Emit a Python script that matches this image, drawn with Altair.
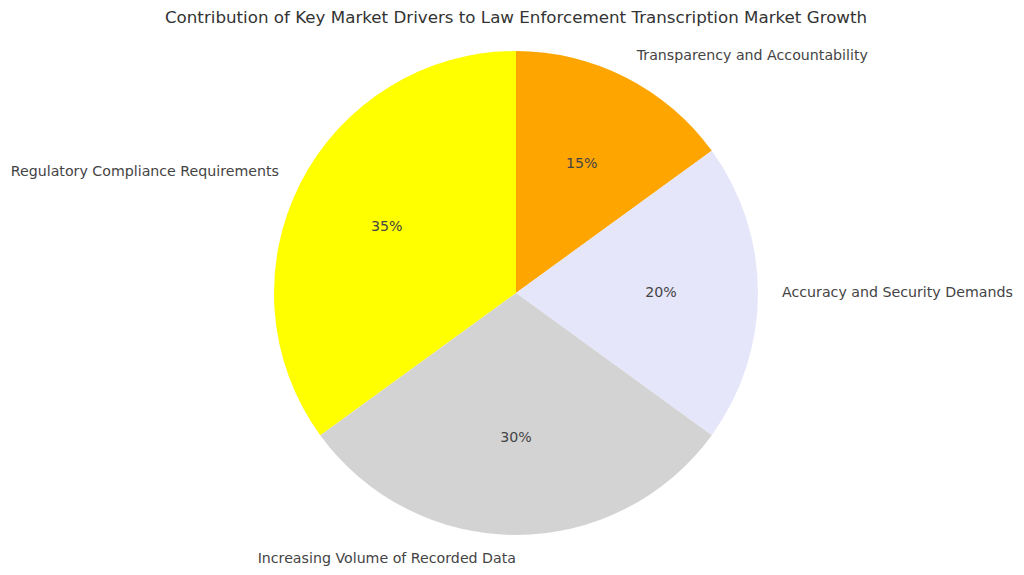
import altair as alt
import pandas as pd

categories = ["Transparency and Accountability", "Accuracy and Security Demands",
              "Increasing Volume of Recorded Data", "Regulatory Compliance Requirements"]
values = [15, 20, 30, 35]
colors = ["#FFA500", "#E6E6FA", "#D3D3D3", "#FFFF00"]

df = pd.DataFrame({"category": categories, "value": values, "idx": list(range(len(values)))})

base = alt.Chart(df).transform_window(
    cum_end="sum(value)", sort=[alt.SortField("idx")], frame=[None, 0]
).transform_calculate(
    cum_start="datum.cum_end - datum.value",
    mid="datum.cum_end - datum.value / 2",
    pct="format(datum.value, '.0f') + '%'",
    side="datum.cum_end - datum.value / 2 < 50 ? 'left' : 'right'",
)

tscale = alt.Scale(domain=[0, 100], range=[0, 6.283185307179586])
FS = 14.2
TXT = "#444444"

arcs = base.mark_arc(radius=242, stroke=None).encode(
    theta=alt.Theta("cum_start:Q", scale=tscale, stack=None),
    theta2="cum_end:Q",
    color=alt.Color("category:N", scale=alt.Scale(domain=categories, range=colors), legend=None),
)

pcts = base.mark_text(radius=145, font="DejaVu Sans", fontSize=FS, color=TXT).encode(
    theta=alt.Theta("mid:Q", scale=tscale, stack=None),
    text="pct:N",
)

left_labels = base.transform_filter("datum.side == 'left'").mark_text(
    radius=266, align="left", font="DejaVu Sans", fontSize=FS, color=TXT
).encode(theta=alt.Theta("mid:Q", scale=tscale, stack=None), text="category:N")

right_labels = base.transform_filter("datum.side == 'right'").mark_text(
    radius=266, align="right", font="DejaVu Sans", fontSize=FS, color=TXT
).encode(theta=alt.Theta("mid:Q", scale=tscale, stack=None), text="category:N")

chart = alt.layer(arcs, pcts, left_labels, right_labels).properties(
    width=1000, height=490,
    autosize=alt.AutoSizeParams(type="none"),
    padding={"left": 8, "top": 40, "right": 0, "bottom": 30},
    title=alt.TitleParams(
        "Contribution of Key Market Drivers to Law Enforcement Transcription Market Growth",
        font="DejaVu Sans", fontSize=16.7, fontWeight="normal", color="#333333",
        anchor="middle", offset=21,
    ),
).configure_view(stroke=None)

chart.save("out.html", embed_options={"renderer": "svg", "actions": False})
